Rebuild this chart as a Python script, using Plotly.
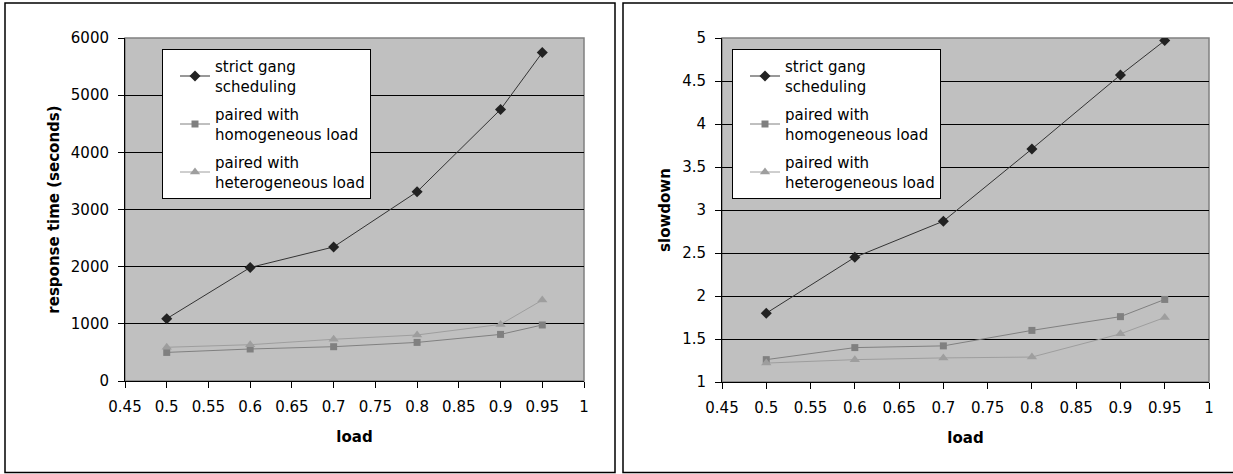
import plotly.graph_objects as go

W, H = 1233, 474

load = [0.5, 0.6, 0.7, 0.8, 0.9, 0.95]

series_names = ["strict gang<br>scheduling", "paired with<br>homogeneous load", "paired with<br>heterogeneous load"]

resp_strict = [1090, 1985, 2345, 3310, 4750, 5745]
resp_homog = [500, 560, 600, 675, 815, 980]
resp_hetero = [590, 635, 730, 805, 990, 1415]

slow_strict = [1.80, 2.45, 2.87, 3.71, 4.57, 4.97]
slow_homog = [1.26, 1.40, 1.42, 1.60, 1.76, 1.96]
slow_hetero = [1.22, 1.26, 1.28, 1.29, 1.56, 1.75]

left_ylabel = "response time (seconds)"
right_ylabel = "slowdown"
xlabel = "load"

FONT = "DejaVu Sans"
styles = [
    dict(line=dict(color="#333333", width=1), marker=dict(symbol="diamond", size=8.5, color="#222222")),
    dict(line=dict(color="#808080", width=1), marker=dict(symbol="square", size=7, color="#808080")),
    dict(line=dict(color="#9e9e9e", width=1), marker=dict(symbol="triangle-up", size=9, color="#9e9e9e")),
]

def px(x):
    return x / W

def py(y):
    return 1 - y / H

fig = go.Figure()
for i, (vals, name) in enumerate(zip([resp_strict, resp_homog, resp_hetero], series_names)):
    fig.add_trace(go.Scatter(x=load, y=vals, name=name, mode="lines+markers",
                             xaxis="x", yaxis="y", legend="legend", legendgroup=f"a{i}",
                             **styles[i]))
for i, (vals, name) in enumerate(zip([slow_strict, slow_homog, slow_hetero], series_names)):
    fig.add_trace(go.Scatter(x=load, y=vals, name=name, mode="lines+markers",
                             xaxis="x2", yaxis="y2", legend="legend2", legendgroup=f"b{i}",
                             **styles[i]))

axis_common = dict(showline=True, linecolor="black", linewidth=1, ticks="outside",
                   ticklen=6, tickcolor="black", zeroline=False, automargin=False,
                   tickfont=dict(family=FONT, size=15, color="black"))

xcommon = dict(range=[0.45, 1], dtick=0.05, tick0=0.45, showgrid=False,
               title=dict(text="<b>" + xlabel + "</b>", font=dict(family=FONT, size=15, color="black"), standoff=16),
               ticklabelstandoff=6, **axis_common)

fig.update_layout(
    width=W, height=H, autosize=False,
    margin=dict(l=0, r=0, t=0, b=0, autoexpand=False),
    paper_bgcolor="white", plot_bgcolor="#c0c0c0",
    xaxis=dict(domain=[px(125), px(584)], anchor="y", **xcommon),
    yaxis=dict(domain=[py(381), py(38)], anchor="x", range=[0, 6000], dtick=1000,
               showgrid=True, gridcolor="black", gridwidth=1, ticklabelstandoff=6,
               title=dict(text="<b>" + left_ylabel + "</b>", font=dict(family=FONT, size=15, color="black"), standoff=7),
               **axis_common),
    xaxis2=dict(domain=[px(722), px(1209)], anchor="y2", **xcommon),
    yaxis2=dict(domain=[py(382), py(38)], anchor="x2", range=[1, 5], dtick=0.5,
                showgrid=True, gridcolor="black", gridwidth=1, ticklabelstandoff=6,
                title=dict(text="<b>" + right_ylabel + "</b>", font=dict(family=FONT, size=15, color="black"), standoff=7),
                **axis_common),
    legend=dict(x=px(162), y=py(49), xanchor="left", yanchor="top", bgcolor="white",
                bordercolor="black", borderwidth=1, tracegroupgap=6, indentation=12,
                font=dict(family=FONT, size=15, color="black")),
    legend2=dict(x=px(732), y=py(49), xanchor="left", yanchor="top", bgcolor="white",
                 bordercolor="black", borderwidth=1, tracegroupgap=6, indentation=12,
                 font=dict(family=FONT, size=15, color="black")),
    showlegend=True,
)

shapes = [
    dict(type="rect", xref="x domain", yref="y domain", x0=0, x1=1, y0=0, y1=1,
         line=dict(color="#808080", width=1.5), layer="below"),
    dict(type="rect", xref="x2 domain", yref="y2 domain", x0=0, x1=1, y0=0, y1=1,
         line=dict(color="#808080", width=1.5), layer="below"),
    dict(type="rect", xref="paper", yref="paper", x0=px(5), x1=px(615), y0=py(472.5), y1=py(3),
         line=dict(color="black", width=1.5), layer="above"),
    dict(type="rect", xref="paper", yref="paper", x0=px(623), x1=px(1240), y0=py(472.5), y1=py(3),
         line=dict(color="black", width=1.5), layer="above"),
]
fig.update_layout(shapes=shapes)

fig.write_html("out.html")
